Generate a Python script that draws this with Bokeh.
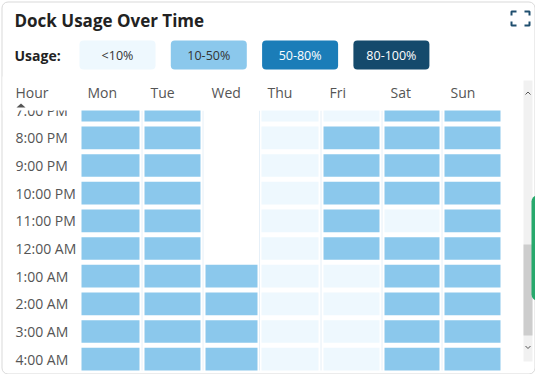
from bokeh.plotting import figure
from bokeh.models import Range1d, ColumnDataSource
from bokeh.core.properties import value
from bokeh.embed import file_html
from bokeh.resources import INLINE

# ---------------- data ----------------
title_text = "Dock Usage Over Time"
legend_title = "Usage:"
levels = ["<10%", "10-50%", "50-80%", "80-100%"]
days = ["Mon", "Tue", "Wed", "Thu", "Fri", "Sat", "Sun"]
hours = ["7:00 PM", "8:00 PM", "9:00 PM", "10:00 PM", "11:00 PM", "12:00 AM",
         "1:00 AM", "2:00 AM", "3:00 AM", "4:00 AM"]
# usage band per hour for each day ("" = no data)
mon = ["10-50%", "10-50%", "10-50%", "10-50%", "10-50%", "10-50%", "10-50%", "10-50%", "10-50%", "10-50%"]
tue = ["10-50%", "10-50%", "10-50%", "10-50%", "10-50%", "10-50%", "10-50%", "10-50%", "10-50%", "10-50%"]
wed = ["", "", "", "", "", "", "10-50%", "10-50%", "10-50%", "10-50%"]
thu = ["<10%", "<10%", "<10%", "<10%", "<10%", "<10%", "<10%", "<10%", "<10%", "<10%"]
fri = ["<10%", "10-50%", "10-50%", "10-50%", "10-50%", "10-50%", "<10%", "<10%", "<10%", "<10%"]
sat = ["10-50%", "10-50%", "10-50%", "10-50%", "<10%", "10-50%", "10-50%", "10-50%", "10-50%", "10-50%"]
sun = ["10-50%", "10-50%", "10-50%", "10-50%", "10-50%", "10-50%", "10-50%", "10-50%", "10-50%", "10-50%"]
usage = {"Mon": mon, "Tue": tue, "Wed": wed, "Thu": thu, "Fri": fri, "Sat": sat, "Sun": sun}

# ---------------- styles / layout ----------------
level_colors = {"<10%": "#eef8fe", "10-50%": "#8bc8ec", "50-80%": "#1b7db8", "80-100%": "#154a6c"}
level_text = {"<10%": "#333333", "10-50%": "#333333", "50-80%": "#ffffff", "80-100%": "#ffffff"}
FONT = value("Open Sans")
col_left = [89, 152, 213, 269, 331, 392, 452]
col_right = [147, 208, 265, 326, 387, 447, 508]
row_top0, row_pitch, row_h = 106.3, 27.67, 22.7
leg_left0, leg_pitch, leg_w = 87, 91.3, 76

p = figure(width=535, height=374, output_backend="svg", toolbar_location=None,
           x_range=Range1d(8, 543), y_range=Range1d(382, 8), min_border=0)
p.axis.visible = False
p.grid.visible = False
p.outline_line_color = None
p.background_fill_color = "white"
p.border_fill_color = "white"

# card
p.quad(left=[9.5], right=[542.5], top=[9.5], bottom=[381.5], fill_color="white",
       line_color="#d9d9d9", line_width=1, border_radius=6)

# faint table borders
gx = [(col_right[i] + col_left[i + 1]) / 2 for i in range(len(days) - 1)]
p.segment(x0=gx, x1=gx, y0=[118] * len(gx), y1=[378] * len(gx), line_color="#e6f0f8", line_width=1)

# cells
cl, cr, ct, cb, cc = [], [], [], [], []
for j, d in enumerate(days):
    for i, h in enumerate(hours):
        lv = usage[d][i]
        if not lv:
            continue
        cl.append(col_left[j]); cr.append(col_right[j])
        ct.append(row_top0 + i * row_pitch); cb.append(row_top0 + i * row_pitch + row_h)
        cc.append(level_colors[lv])
p.quad(source=ColumnDataSource(dict(l=cl, r=cr, t=ct, b=cb, c=cc)),
       left="l", right="r", top="t", bottom="b", fill_color="c", line_color=None)

# row labels
p.text(x=[23] * len(hours), y=[row_top0 + i * row_pitch + row_h / 2 for i in range(len(hours))],
       text=hours, text_font=FONT, text_font_size="14px", text_color="#555555",
       text_align="left", text_baseline="middle")

# header cover
p.quad(left=[10], right=[529], top=[84], bottom=[118], fill_color="white", line_color=None)

# header
p.text(x=[23], y=[100], text=["Hour"], text_font=FONT, text_font_size="14px",
       text_color="#555555", text_align="left", text_baseline="middle")
p.text(x=[c + 6 for c in col_left], y=[100] * len(days), text=days, text_font=FONT,
       text_font_size="14px", text_color="#555555", text_align="left", text_baseline="middle")
p.patch(x=[24, 33, 28.5], y=[115, 115, 111], fill_color="#555555", line_color=None)

# title
p.text(x=[22], y=[27.5], text=[title_text], text_font=FONT, text_font_size="17px",
       text_font_style="bold", text_color="#222222", text_align="left", text_baseline="middle")

# legend
p.text(x=[22], y=[63], text=[legend_title], text_font=FONT, text_font_size="14px",
       text_font_style="bold", text_color="#222222", text_align="left", text_baseline="middle")
ll = [leg_left0 + k * leg_pitch for k in range(len(levels))]
p.quad(left=ll, right=[v + leg_w for v in ll], top=[48] * 4, bottom=[77] * 4,
       fill_color=[level_colors[l] for l in levels], line_color=None, border_radius=4)
p.text(x=[v + leg_w / 2 for v in ll], y=[63] * 4, text=levels, text_font=FONT,
       text_font_size="12.5px", text_color=[level_text[l] for l in levels],
       text_align="center", text_baseline="middle")

# fullscreen icon
ic = "#1f4e6e"
p.multi_line(xs=[[519, 519, 524], [532, 537, 537], [519, 519, 524], [532, 537, 537]],
             ys=[[23, 19, 19], [19, 19, 23], [29, 33, 33], [33, 33, 29]],
             line_color=ic, line_width=2)

# scrollbar
p.quad(left=[531], right=[540], top=[88], bottom=[369], fill_color="#f1f1f1", line_color=None)
p.quad(left=[531], right=[540], top=[252], bottom=[343], fill_color="#cdcdcd", line_color=None)
p.multi_line(xs=[[533, 535.5, 538], [533, 535.5, 538]], ys=[[102, 99.5, 102], [353.5, 356, 353.5]],
             line_color="#555555", line_width=1)

# side tab
p.quad(left=[539], right=[552], top=[203], bottom=[308], fill_color="#27a96c", line_color=None,
       border_radius=6)

open("out.html", "w").write(file_html(p, INLINE))
